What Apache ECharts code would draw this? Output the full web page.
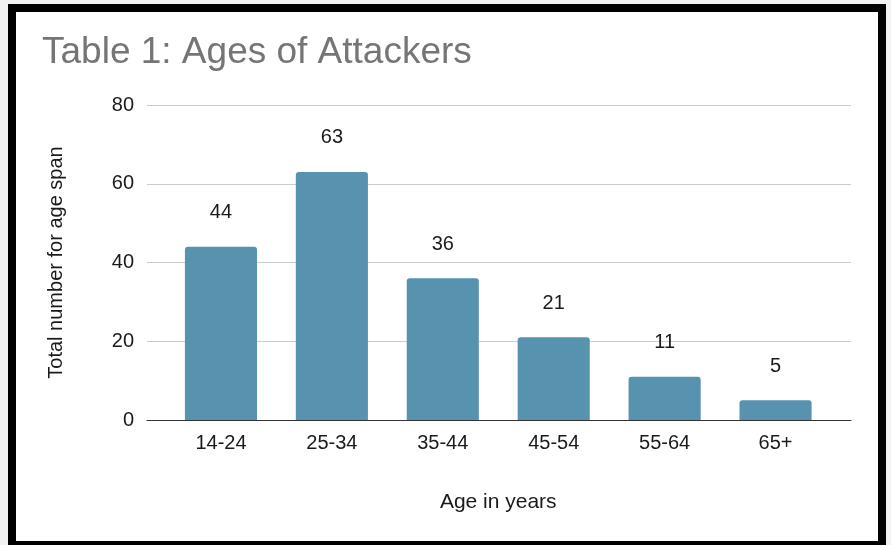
<!DOCTYPE html>
<html>
<head>
<meta charset="utf-8">
<script src="https://cdn.jsdelivr.net/npm/echarts@6/dist/echarts.min.js"></script>
<style>
  html, body { margin: 0; padding: 0; background: #f2f2f2; }
  #chart { position: absolute; left: 0; top: 0; width: 891px; height: 545px; background: #fff; }
  #frame {
    position: absolute; left: 8px; top: 4px; width: 878px; height: 545px;
    border: 8px solid #000; box-sizing: border-box; pointer-events: none;
    box-shadow: 0 0 0 30px #f2f2f2;
  }
</style>
</head>
<body>
<div id="chart"></div>
<div id="frame"></div>
<script>
// data
const ageSpans = ["14-24", "25-34", "35-44", "45-54", "55-64", "65+"];
const attackers = [44, 63, 36, 21, 11, 5];
const yTicks = [0, 20, 40, 60, 80];

const font = "Arial, 'Liberation Sans', sans-serif";
const chart = echarts.init(document.getElementById("chart"));

const option = {
  animation: false,
  title: {
    text: "Table 1: Ages of Attackers",
    left: 37,
    top: 29,
    textStyle: { color: "#757575", fontSize: 37, fontWeight: "normal", fontFamily: font },
  },
  grid: [
    // lines grid (gridlines + baseline reach wider than the bars)
    { left: 147, right: 40, top: 105, bottom: 125 },
    // bars grid
    { left: 165.5, right: 60, top: 105, bottom: 125 },
  ],
  xAxis: [
    {
      gridIndex: 0,
      type: "category",
      data: [""],
      axisLine: { show: true, lineStyle: { color: "#333", width: 1 } },
      axisTick: { show: false },
      axisLabel: { show: false },
    },
    {
      gridIndex: 1,
      type: "category",
      data: ageSpans,
      axisLine: { show: false },
      axisTick: { show: false },
      axisLabel: { color: "#1a1a1a", fontSize: 20, fontFamily: font, margin: 13 },
      name: "Age in years",
      nameLocation: "middle",
      nameGap: 72,
      nameTextStyle: { color: "#1a1a1a", fontSize: 21, fontFamily: font },
    },
  ],
  yAxis: [
    {
      gridIndex: 0,
      type: "value",
      min: yTicks[0],
      max: yTicks[yTicks.length - 1],
      interval: 20,
      axisLine: { show: false },
      axisTick: { show: false },
      splitLine: { lineStyle: { color: "#cccccc", width: 1 } },
      axisLabel: { color: "#1a1a1a", fontSize: 20, fontFamily: font, margin: 13 },
      name: "Total number for age span",
      nameLocation: "middle",
      nameGap: 81,
      nameTextStyle: { color: "#1a1a1a", fontSize: 20, fontFamily: font },
    },
    {
      gridIndex: 1,
      type: "value",
      min: yTicks[0],
      max: yTicks[yTicks.length - 1],
      interval: 20,
      show: false,
    },
  ],
  series: [
    {
      type: "bar",
      xAxisIndex: 1,
      yAxisIndex: 1,
      data: attackers,
      barWidth: "65%",
      itemStyle: { color: "#5793ae", borderRadius: [3, 3, 0, 0] },
      label: {
        show: true,
        position: "top",
        distance: 24,
        color: "#1a1a1a",
        fontSize: 20,
        fontFamily: font,
      },
    },
  ],
};

chart.setOption(option);
</script>
</body>
</html>
